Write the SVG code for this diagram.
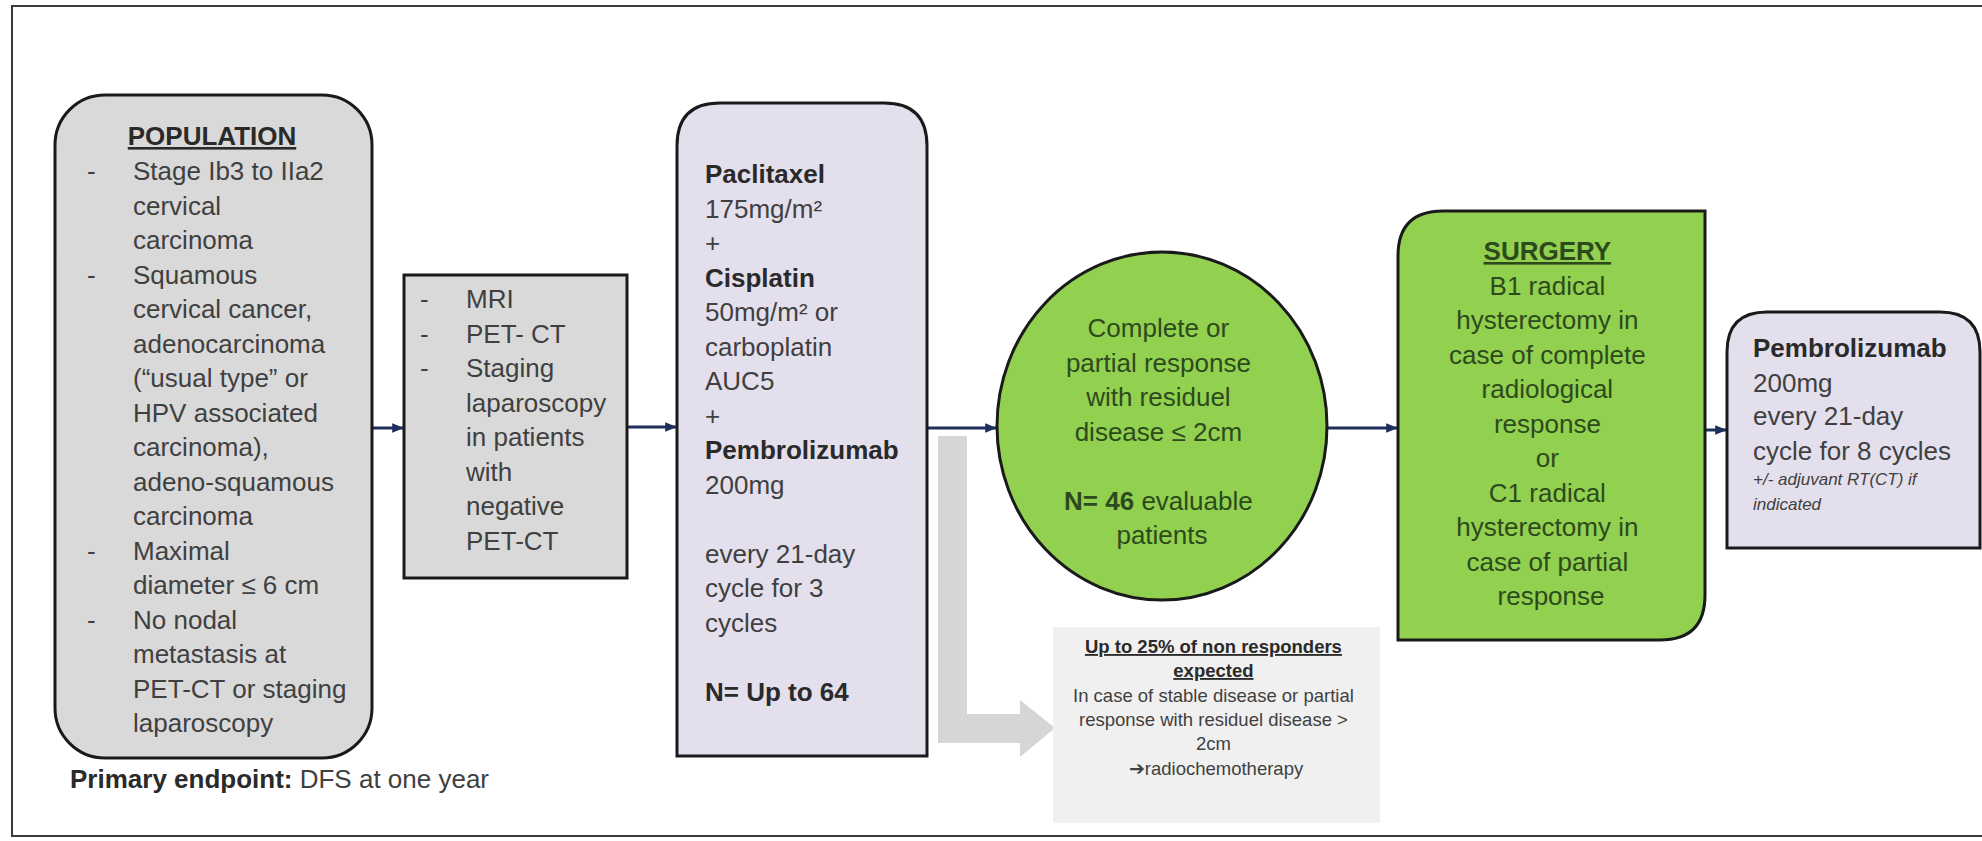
<svg xmlns="http://www.w3.org/2000/svg" width="1982" height="841" viewBox="0 0 1982 841">
<defs>
<style>
text{font-family:"Liberation Sans",Arial,sans-serif;fill:#404040;font-size:26px}
.b{font-weight:bold;fill:#2a2a2a}
.u{text-decoration:underline}
.g{fill:#2d4a1c}
.s{font-size:18.5px}
.i{font-style:italic;font-size:17px}
.node{stroke:#1a1a1a;stroke-width:3}
.conn{stroke:#1f2f5c;stroke-width:3;fill:none;marker-end:url(#ah)}
</style>
<marker id="ah" viewBox="0 0 10 10" refX="9" refY="5" markerWidth="4" markerHeight="4" orient="auto" markerUnits="strokeWidth">
<path d="M0,1 L10,5 L0,9 Z" fill="#1f2f5c"/>
</marker>
</defs>
<rect x="0" y="0" width="1982" height="841" fill="#ffffff"/>
<rect x="12" y="6" width="1990" height="830" fill="none" stroke="#3a3a3a" stroke-width="2"/>

<g id="connectors">
<line class="conn" x1="372" y1="428" x2="403" y2="428"/>
<line class="conn" x1="627" y1="427" x2="676" y2="427"/>
<line class="conn" x1="927" y1="428" x2="996" y2="428"/>
<line class="conn" x1="1327" y1="428" x2="1397" y2="428"/>
<line class="conn" x1="1705" y1="430" x2="1726" y2="430"/>
<path d="M938,436 H967 V714 H1020 V700 L1055,728 L1020,757 V743 H938 Z" fill="#d6d6d6"/>
</g>

<g id="population">
<rect class="node" x="55" y="95" width="317" height="663" rx="50" ry="50" fill="#d9d9d9"/>
<text class="b u" x="212" y="145" text-anchor="middle">POPULATION</text>
<text x="87" y="180">-</text>
<text x="87" y="283.5">-</text>
<text x="87" y="559.5">-</text>
<text x="87" y="628.5">-</text>
<text x="133">
<tspan x="133" y="180">Stage Ib3 to IIa2</tspan>
<tspan x="133" y="214.5">cervical</tspan>
<tspan x="133" y="249">carcinoma</tspan>
<tspan x="133" y="283.5">Squamous</tspan>
<tspan x="133" y="318">cervical cancer,</tspan>
<tspan x="133" y="352.5">adenocarcinoma</tspan>
<tspan x="133" y="387">(“usual type” or</tspan>
<tspan x="133" y="421.5">HPV associated</tspan>
<tspan x="133" y="456">carcinoma),</tspan>
<tspan x="133" y="490.5">adeno-squamous</tspan>
<tspan x="133" y="525">carcinoma</tspan>
<tspan x="133" y="559.5">Maximal</tspan>
<tspan x="133" y="594">diameter ≤ 6 cm</tspan>
<tspan x="133" y="628.5">No nodal</tspan>
<tspan x="133" y="663">metastasis at</tspan>
<tspan x="133" y="697.5">PET-CT or staging</tspan>
<tspan x="133" y="732">laparoscopy</tspan>
</text>
</g>

<g id="endpoint">
<text x="70" y="788"><tspan class="b">Primary endpoint:</tspan> DFS at one year</text>
</g>

<g id="imaging">
<rect class="node" x="404" y="275" width="223" height="303" fill="#d9d9d9"/>
<text x="420" y="308">-</text>
<text x="420" y="342.5">-</text>
<text x="420" y="377">-</text>
<text>
<tspan x="466" y="308">MRI</tspan>
<tspan x="466" y="342.5">PET- CT</tspan>
<tspan x="466" y="377">Staging</tspan>
<tspan x="466" y="411.5">laparoscopy</tspan>
<tspan x="466" y="446">in patients</tspan>
<tspan x="466" y="480.5">with</tspan>
<tspan x="466" y="515">negative</tspan>
<tspan x="466" y="549.5">PET-CT</tspan>
</text>
</g>

<g id="chemo">
<path class="node" d="M677,756 V146 Q677,103 720,103 H884 Q927,103 927,146 V756 Z" fill="#e4dfec"/>
<text>
<tspan class="b" x="705" y="183">Paclitaxel</tspan>
<tspan x="705" y="217.5">175mg/m²</tspan>
<tspan x="705" y="252">+</tspan>
<tspan class="b" x="705" y="286.5">Cisplatin</tspan>
<tspan x="705" y="321">50mg/m² or</tspan>
<tspan x="705" y="355.5">carboplatin</tspan>
<tspan x="705" y="390">AUC5</tspan>
<tspan x="705" y="424.5">+</tspan>
<tspan class="b" x="705" y="459">Pembrolizumab</tspan>
<tspan x="705" y="493.5">200mg</tspan>
<tspan x="705" y="562.5">every 21-day</tspan>
<tspan x="705" y="597">cycle for 3</tspan>
<tspan x="705" y="631.5">cycles</tspan>
<tspan class="b" x="705" y="700.5">N= Up to 64</tspan>
</text>
</g>

<g id="response">
<ellipse class="node" cx="1162" cy="426" rx="165" ry="174" fill="#92d050"/>
<text class="g" text-anchor="middle">
<tspan x="1162" y="337">Complete or</tspan>
<tspan x="1162" y="371.5">partial response</tspan>
<tspan x="1162" y="406">with residuel</tspan>
<tspan x="1162" y="440.5">disease ≤ 2cm</tspan>
<tspan x="1162" y="509.5"><tspan class="b g">N= 46</tspan> evaluable</tspan>
<tspan x="1162" y="544">patients</tspan>
</text>
</g>

<g id="nonresponders">
<rect x="1053" y="627" width="327" height="196" fill="#f0f0f0"/>
<text class="s" text-anchor="middle">
<tspan class="b u" x="1216" y="653">Up to 25% of non responders</tspan>
<tspan class="b u" x="1216" y="677">expected</tspan>
<tspan x="1216" y="702">In case of stable disease or partial</tspan>
<tspan x="1216" y="726">response with residuel disease &gt;</tspan>
<tspan x="1216" y="750">2cm</tspan>
<tspan x="1216" y="775">➔radiochemotherapy</tspan>
</text>
</g>

<g id="surgery">
<path class="node" d="M1398,640 V256 Q1398,211 1443,211 H1705 V595 Q1705,640 1660,640 Z" fill="#92d050"/>
<text class="g" text-anchor="middle">
<tspan class="b u g" x="1551" y="260">SURGERY</tspan>
<tspan x="1551" y="294.5">B1 radical</tspan>
<tspan x="1551" y="329">hysterectomy in</tspan>
<tspan x="1551" y="363.5">case of complete</tspan>
<tspan x="1551" y="398">radiological</tspan>
<tspan x="1551" y="432.5">response</tspan>
<tspan x="1551" y="467">or</tspan>
<tspan x="1551" y="501.5">C1 radical</tspan>
<tspan x="1551" y="536">hysterectomy in</tspan>
<tspan x="1551" y="570.5">case of partial</tspan>
<tspan x="1551" y="605">response</tspan>
</text>
</g>

<g id="maintenance">
<path class="node" d="M1727,548 V352 Q1727,312 1767,312 H1940 Q1980,312 1980,352 V548 Z" fill="#e4dfec"/>
<text>
<tspan class="b" x="1753" y="357">Pembrolizumab</tspan>
<tspan x="1753" y="392">200mg</tspan>
<tspan x="1753" y="425">every 21-day</tspan>
<tspan x="1753" y="460">cycle for 8 cycles</tspan>
<tspan class="i" x="1753" y="485">+/- adjuvant RT(CT) if</tspan>
<tspan class="i" x="1753" y="510">indicated</tspan>
</text>
</g>
</svg>
